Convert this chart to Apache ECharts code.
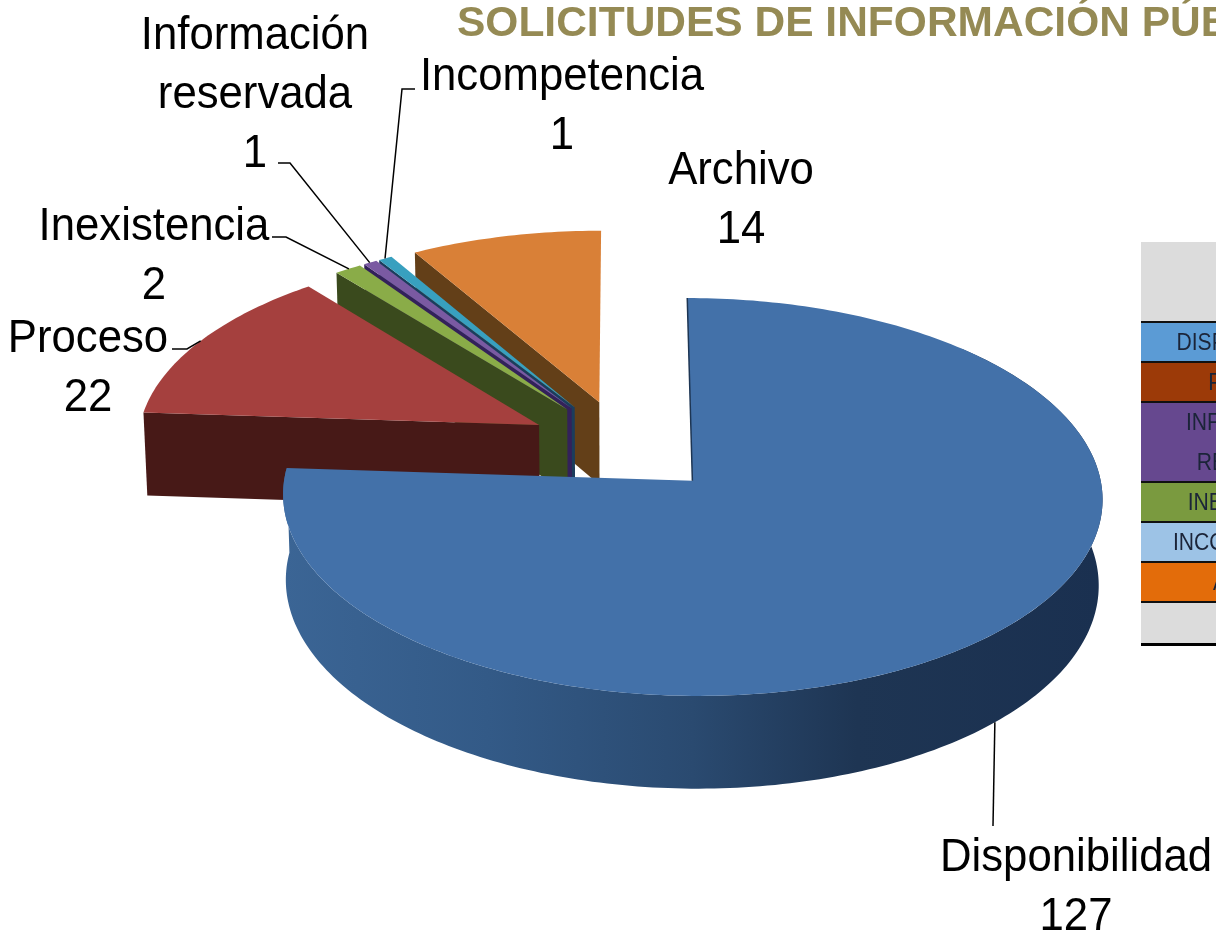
<!DOCTYPE html>
<html><head><meta charset="utf-8">
<style>html,body{margin:0;padding:0;background:#fff;overflow:hidden}#c{width:1216px;height:931px}</style>
<script src="https://cdn.jsdelivr.net/npm/echarts@6/dist/echarts.min.js"></script>
</head><body><div id="c"></div>
<script>
const titleText = 'SOLICITUDES DE INFORMACIÓN PÚBLICA';
const categories = ['Disponibilidad','Proceso','Inexistencia','Información\nreservada','Incompetencia','Archivo'];
const values = [127,22,2,1,1,14];
const tableLabels = ['DISPONIBILIDAD','PROCESO','INFORMACIÓN\nRESERVADA','INEXISTENCIA','INCOMPETENCIA','ARCHIVO'];

const topColors  = ['#4371a9','#a5403e','#8aac48','#7a5aa2','#38a0bf','#d98037'];
const wallColors = ['#2b4c76','#471917','#3a4a1d','#33215a','#1b3d5c','#633f18'];
const tableColors = ['#5b9bd5','#9c3a08','#66488f','#7a9a3f','#9dc3e6','#e36c0a'];
const tableHeights = [40,40,80,40,40,40];

// label block centre x, top y, leader path starting next to the slice
const labelLayout = [
  {x:1076,y:829,leader:[[993,826]],rimAngle:136},
  {x:88,y:310,leader:[[187,349],[172,349]],rimAngle:297.5},
  {x:154,y:198,leader:[[286,237],[272,237]],rimAngle:323.5},
  {x:255,y:7,leader:[[290,163],[278,163]],rimAngle:326.5},
  {x:562,y:48,leader:[[402,89],[415,89]],rimAngle:328.7},
  {x:741,y:142,leader:null,rimAngle:345}
];

// projection constants
const Cx=624, Cy=446, Rx=402.5, Ry=192, P=0.08, DEPTH=84/192;
const explode=[0.245,0.24,0.24,0.24,0.24,0.24];
const W=1216, H=931;

const total = values.reduce((a,b)=>a+b,0);
let acc=0;
const spans = values.map(v=>{const s=acc/total*Math.PI*2; acc+=v; return [s,acc/total*Math.PI*2];});

function pt(i,r,a,z){
  const mid=(spans[i][0]+spans[i][1])/2;
  const u=explode[i]*Math.sin(mid)+r*Math.sin(a);
  const v=-explode[i]*Math.cos(mid)-r*Math.cos(a);
  const s=1/(1-P*v);
  const k=1-0.008*z;
  return [u*s*k,(v+z*DEPTH)*s];
}
function arc(i,a0,a1,z,api){
  const n=Math.max(4,Math.ceil(Math.abs(a1-a0)/(Math.PI/180)));
  const out=[];
  for(let j=0;j<=n;j++){out.push(api.coord(pt(i,1,a0+(a1-a0)*j/n,z)));}
  return out;
}
function renderSlice(params,api){
  const i=api.value(1);
  const [a0,a1]=spans[i];
  const apexT=api.coord(pt(i,0,a0,0)), apexB=api.coord(pt(i,0,a0,1));
  const rimT0=api.coord(pt(i,1,a0,0)), rimB0=api.coord(pt(i,1,a0,1));
  const children=[];
  if(i===0){
    const wt=arc(i,a0+Math.PI*0.25,a1,0,api), wb=arc(i,a0+Math.PI*0.25,a1,1,api).reverse();
    children.push({type:'polygon',shape:{points:wt.concat(wb)},style:{fill:new echarts.graphic.LinearGradient(0,0,1,0,[
      {offset:0,color:'#3b6595'},{offset:0.25,color:'#335a87'},{offset:0.5,color:'#2a4a70'},{offset:0.7,color:'#1e3553'},{offset:1,color:'#1a3050'}])}});
  } else {
    children.push({type:'polygon',shape:{points:[apexT,rimT0,rimB0,apexB]},style:{fill:wallColors[i]}});
  }
  const pts=[apexT].concat(arc(i,a0,a1,0,api));
  children.push({type:'polygon',shape:{points:pts},style:{fill:topColors[i]}});
  if(i===0){
    children.push({type:'line',shape:{x1:apexT[0],y1:apexT[1],x2:rimT0[0],y2:rimT0[1]},style:{stroke:'#1d3553',lineWidth:1.5}});
  }
  return {type:'group',children};
}
function renderLabel(params,api){
  const i=api.value(1);
  const L=labelLayout[i];
  const children=[{type:'text',x:L.x,y:L.y,scaleX:0.95,style:{x:0,y:0,text:categories[i]+'\n'+api.value(0),align:'center',verticalAlign:'top',
    font:'46px "Liberation Sans",Arial,sans-serif',lineHeight:59,fill:'#000'}}];
  if(L.leader){
    const z = i===0?1:0;
    const rim=api.coord(pt(i,1,L.rimAngle*Math.PI/180,z));
    children.push({type:'polyline',shape:{points:[rim].concat(L.leader)},style:{stroke:'#000',lineWidth:1.5,fill:null}});
  }
  return {type:'group',children};
}

const tableGraphics=[];
const tx=1141, ty=242;
tableGraphics.push({type:'rect',shape:{x:tx,y:ty,width:W-tx,height:402},style:{fill:'#dcdcdc'}});
let ry=ty+80;
tableLabels.forEach((t,i)=>{
  tableGraphics.push({type:'rect',shape:{x:tx,y:ry,width:W-tx,height:tableHeights[i]},style:{fill:tableColors[i]}});
  tableGraphics.push({type:'rect',shape:{x:tx,y:ry-1,width:W-tx,height:2},style:{fill:'#111'}});
  tableGraphics.push({type:'text',x:1261,y:ry+tableHeights[i]/2+1,scaleX:0.88,style:{x:0,y:0,text:t,align:'center',verticalAlign:'middle',
    font:'24px "Liberation Sans",Arial,sans-serif',lineHeight:40,fill:'#1b2438'}});
  ry+=tableHeights[i];
});
tableGraphics.push({type:'rect',shape:{x:tx,y:ry-1,width:W-tx,height:2},style:{fill:'#111'}});
tableGraphics.push({type:'rect',shape:{x:tx,y:ty+401,width:W-tx,height:3},style:{fill:'#000'}});
tableGraphics.push({type:'text',style:{x:457,y:24,text:titleText,font:'bold 42.5px "Liberation Sans",Arial,sans-serif',fill:'#958a54',verticalAlign:'middle'}});

const order=categories.map((_,i)=>i).reverse();
const sliceData=order.map(i=>[values[i],i]);
const chart=echarts.init(document.getElementById('c'),null,{renderer:'canvas',width:W,height:H});
chart.setOption({
  animation:false,
  backgroundColor:'#fff',
  grid:{left:0,right:0,top:0,bottom:0},
  xAxis:{type:'value',show:false,min:(0-Cx)/Rx,max:(W-Cx)/Rx},
  yAxis:{type:'value',show:false,inverse:true,min:(0-Cy)/Ry,max:(H-Cy)/Ry},
  graphic:{elements:tableGraphics},
  series:[
    {type:'custom',coordinateSystem:'cartesian2d',clip:false,silent:true,data:sliceData,encode:{x:-1,y:-1},renderItem:renderSlice,z:2},
    {type:'custom',coordinateSystem:'cartesian2d',clip:false,silent:true,data:sliceData,encode:{x:-1,y:-1},renderItem:renderLabel,z:3}
  ]
});
</script></body></html>
